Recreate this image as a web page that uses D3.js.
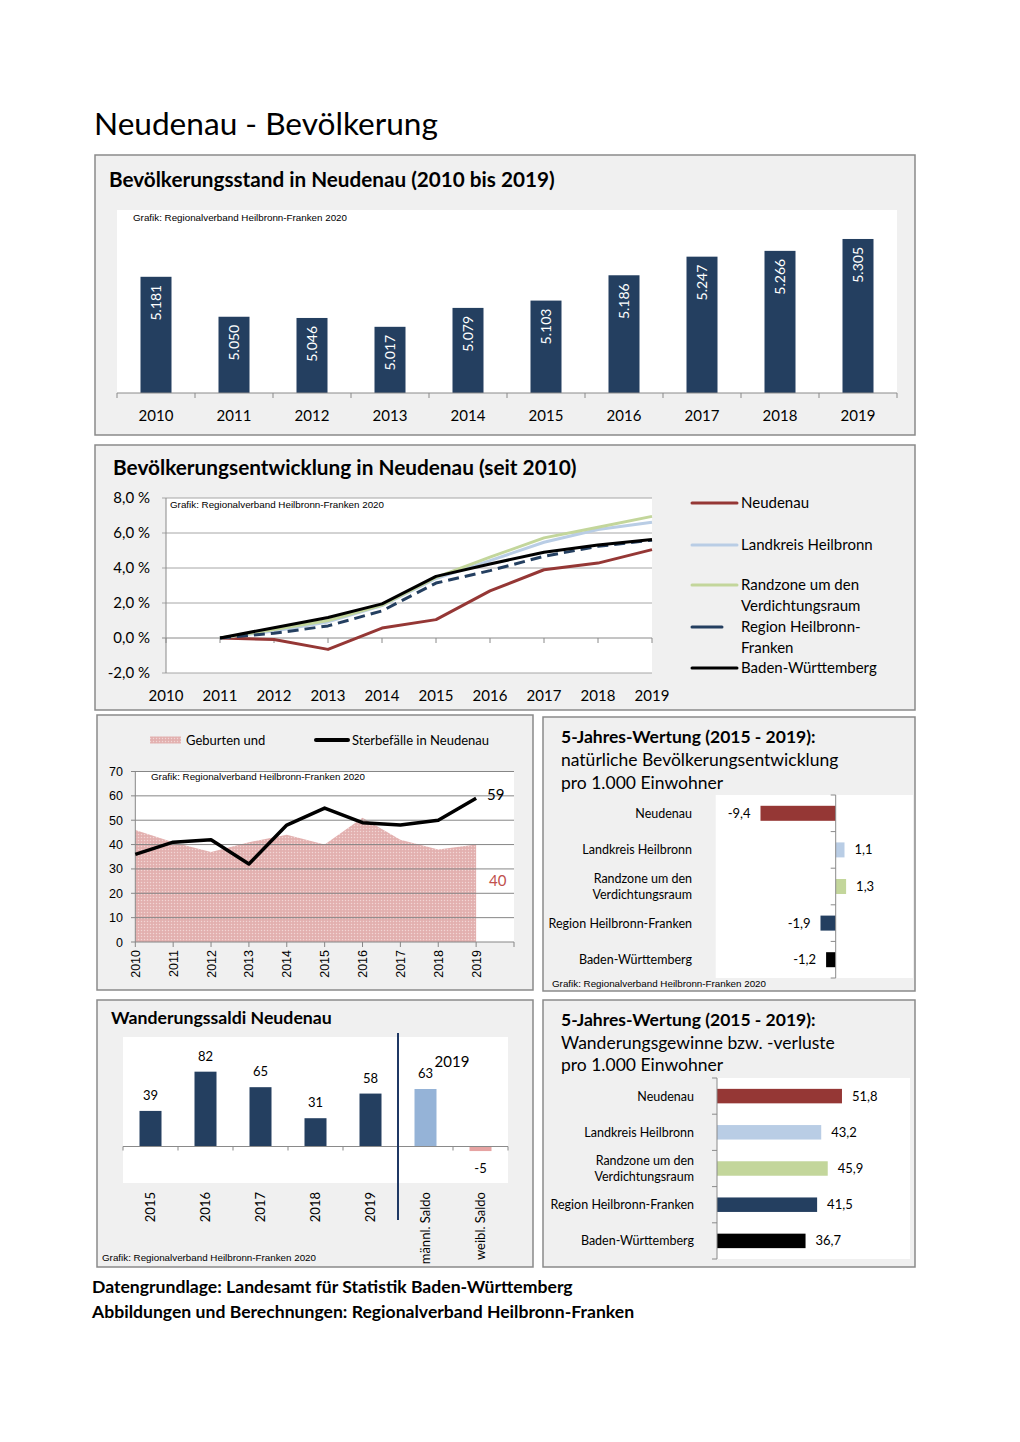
<!DOCTYPE html>
<html>
<head>
<meta charset="utf-8">
<script src="https://cdn.jsdelivr.net/npm/d3@7"></script>
<style>
  body { margin: 0; background: #fff; }
  svg { display: block; }
</style>
</head>
<body>
<script>
// ---------------- DATA ----------------
const popYears = [2010, 2011, 2012, 2013, 2014, 2015, 2016, 2017, 2018, 2019];
const popValues = [5181, 5050, 5046, 5017, 5079, 5103, 5186, 5247, 5266, 5305];

const devYears = [2010, 2011, 2012, 2013, 2014, 2015, 2016, 2017, 2018, 2019];
const devNeudenau  = [null, 0, -0.08, -0.65, 0.57, 1.05, 2.69, 3.90, 4.28, 5.05];
const devLandkreis = [null, 0, 0.40, 0.92, 1.85, 3.40, 4.42, 5.47, 6.20, 6.62];
const devRandzone  = [null, 0, 0.48, 1.00, 1.88, 3.46, 4.62, 5.72, 6.33, 6.95];
const devRegion    = [null, 0, 0.27, 0.69, 1.55, 3.14, 3.85, 4.67, 5.24, 5.59];
const devBW        = [null, 0, 0.59, 1.17, 1.95, 3.52, 4.23, 4.90, 5.32, 5.63];
const devNames = ["Neudenau", "Landkreis Heilbronn", "Randzone um den Verdichtungsraum", "Region Heilbronn-Franken", "Baden-Württemberg"];

const natYears = [2010, 2011, 2012, 2013, 2014, 2015, 2016, 2017, 2018, 2019];
const births = [46, 41, 37, 41, 44, 40, 51, 42, 38, 40];
const deaths = [36, 41, 42, 32, 48, 55, 49, 48, 50, 59];
const natTicks = [0, 10, 20, 30, 40, 50, 60, 70];

const regionNames = ["Neudenau", "Landkreis Heilbronn", "Randzone um den Verdichtungsraum", "Region Heilbronn-Franken", "Baden-Württemberg"];
const natural5y = [-9.4, 1.1, 1.3, -1.9, -1.2];

const migCats = ["2015", "2016", "2017", "2018", "2019", "männl. Saldo", "weibl. Saldo"];
const migValues = [39, 82, 65, 31, 58, 63, -5];

const migration5y = [51.8, 43.2, 45.9, 41.5, 36.7];

const devTicks = [-2, 0, 2, 4, 6, 8];

// ---------------- STYLE ----------------
const CAL = "Lato, 'Open Sans', sans-serif";
const ARIAL = "'Liberation Sans', Arial, sans-serif";
const NAVY = "#243f60";
const seriesColors = ["#953735", "#b9cde5", "#c3d69b", "#243f60", "#000000"];
const de = d3.formatLocale({decimal: ",", thousands: ".", grouping: [3], currency: ["", " €"], minus: "-"});
const fmtThousand = de.format(",");
const fmt1 = de.format(".1f");
const GRAF = "Grafik: Regionalverband Heilbronn-Franken 2020";
const GRAF_SIZE = 9.8;

const svg = d3.select("body").append("svg").attr("width", 1020).attr("height", 1442);
svg.append("rect").attr("width", 1020).attr("height", 1442).attr("fill", "#fff");

const defs = svg.append("defs");
const pat = defs.append("pattern").attr("id", "dots").attr("patternUnits", "userSpaceOnUse")
  .attr("width", 3).attr("height", 3);
pat.append("rect").attr("width", 3).attr("height", 3).attr("fill", "#e5b5b4");
pat.append("rect").attr("x", 0).attr("y", 0).attr("width", 1).attr("height", 1).attr("fill", "#f1d6d5");
pat.append("rect").attr("x", 1.5).attr("y", 1.5).attr("width", 1).attr("height", 1).attr("fill", "#dca2a1");

function panel(x, y, w, h) {
  svg.append("rect").attr("x", x).attr("y", y).attr("width", w).attr("height", h)
    .attr("fill", "#f0f0f0").attr("stroke", "#8a8a8a").attr("stroke-width", 1.5);
}
function text(x, y, s, opts = {}) {
  return svg.append("text").attr("x", x).attr("y", y).text(s)
    .attr("font-family", opts.family || CAL)
    .attr("font-size", opts.size || 14)
    .attr("font-weight", opts.weight || "normal")
    .attr("fill", opts.fill || "#000")
    .attr("text-anchor", opts.anchor || "start");
}
function white(x, y, w, h) {
  svg.append("rect").attr("x", x).attr("y", y).attr("width", w).attr("height", h).attr("fill", "#fff");
}

// ---------------- MAIN TITLE ----------------
text(94, 135, "Neudenau - Bevölkerung", {size: 31.6});

// ---------------- PANEL 1 ----------------
panel(95, 155, 820, 280);
text(109, 187, "Bevölkerungsstand in Neudenau (2010 bis 2019)", {size: 20.7, weight: "bold"});
white(117, 210, 780, 183);
text(133, 221, GRAF, {family: ARIAL, size: GRAF_SIZE});
{
  const x = d3.scaleBand().domain(popYears).range([117, 897]).paddingInner(47 / 78).paddingOuter(47 / 156);
  const y = d3.scaleLinear().domain([4800, 5400]).range([393, 210]);
  const g = svg.append("g");
  g.selectAll("rect.bar").data(popValues).join("rect")
    .attr("x", (d, i) => x(popYears[i])).attr("width", x.bandwidth())
    .attr("y", d => y(d)).attr("height", d => y(4800) - y(d))
    .attr("fill", NAVY);
  g.selectAll("text.lab").data(popValues).join("text")
    .attr("transform", (d, i) => `translate(${x(popYears[i]) + x.bandwidth() / 2 + 5},${y(d) + 8}) rotate(-90)`)
    .attr("text-anchor", "end").attr("font-family", CAL).attr("font-size", 14).attr("fill", "#fff")
    .text(d => fmtThousand(d));
  const axisY = y(4800);
  g.append("line").attr("x1", 117).attr("x2", 897).attr("y1", axisY).attr("y2", axisY).attr("stroke", "#8a8a8a");
  const bounds = d3.range(popYears.length + 1).map(i => x.range()[0] + i * x.step());
  g.selectAll("line.tk").data(bounds).join("line")
    .attr("x1", d => d).attr("x2", d => d).attr("y1", axisY).attr("y2", axisY + 5).attr("stroke", "#8a8a8a");
  g.selectAll("text.xl").data(popYears).join("text")
    .attr("x", d => x(d) + x.bandwidth() / 2).attr("y", 421)
    .attr("text-anchor", "middle").attr("font-family", CAL).attr("font-size", 15)
    .text(d => d);
}

// ---------------- PANEL 2 ----------------
panel(95, 445, 820, 265);
text(113, 475, "Bevölkerungsentwicklung in Neudenau (seit 2010)", {size: 20.8, weight: "bold"});
{
  const x = d3.scalePoint().domain(devYears).range([166, 652]);
  const y = d3.scaleLinear().domain([-2, 8]).range([673, 498]);
  white(166, 498, 486, 175);
  const g = svg.append("g");
  g.selectAll("line.grid").data(devTicks.filter(d => d !== 0)).join("line")
    .attr("x1", 162).attr("x2", 652).attr("y1", d => y(d)).attr("y2", d => y(d))
    .attr("stroke", "#a6a6a6").attr("stroke-width", 1);
  g.append("line").attr("x1", 162).attr("x2", 652).attr("y1", y(0)).attr("y2", y(0)).attr("stroke", "#8a8a8a");
  g.append("line").attr("x1", 166).attr("x2", 166).attr("y1", y(8)).attr("y2", y(-2)).attr("stroke", "#8a8a8a");
  g.selectAll("line.xt").data(devYears).join("line")
    .attr("x1", d => x(d)).attr("x2", d => x(d)).attr("y1", y(0)).attr("y2", y(0) + 5).attr("stroke", "#8a8a8a");
  g.selectAll("text.yl").data(devTicks).join("text")
    .attr("x", 150).attr("y", d => y(d) + 5).attr("text-anchor", "end")
    .attr("font-family", CAL).attr("font-size", 15).text(d => fmt1(d) + " %");
  g.selectAll("text.xl").data(devYears).join("text")
    .attr("x", d => x(d)).attr("y", 701).attr("text-anchor", "middle")
    .attr("font-family", CAL).attr("font-size", 15).text(d => d);
  text(170, 508, GRAF, {family: ARIAL, size: GRAF_SIZE});
  const series = [devNeudenau, devLandkreis, devRandzone, devRegion, devBW];
  const line = d3.line().defined(d => d != null).x((d, i) => x(devYears[i])).y(d => y(d));
  series.forEach((s, k) => {
    g.append("path").attr("d", line(s)).attr("fill", "none")
      .attr("stroke", seriesColors[k]).attr("stroke-width", 3)
      .attr("stroke-linejoin", "round")
      .attr("stroke-dasharray", k === 3 ? "11,6" : null);
  });
  // legend
  const legY = [503, 545, 585, 627, 668];
  const lg = svg.append("g");
  devNames.forEach((n, k) => {
    lg.append("line").attr("x1", 692).attr("x2", k === 3 ? 722 : 737).attr("y1", legY[k]).attr("y2", legY[k])
      .attr("stroke", seriesColors[k]).attr("stroke-width", 3).attr("stroke-linecap", "round");
  });
  const legLines = [["Neudenau"], ["Landkreis Heilbronn"], ["Randzone um den", "Verdichtungsraum"], ["Region Heilbronn-", "Franken"], ["Baden-Württemberg"]];
  legLines.forEach((ls, k) => {
    ls.forEach((l, j) => {
      lg.append("text").attr("x", 741).attr("y", legY[k] + 5 + j * 21).attr("font-family", CAL).attr("font-size", 15).text(l);
    });
  });
}

// ---------------- PANEL 3 ----------------
panel(97, 715, 436, 275);
{
  const x = d3.scalePoint().domain(natYears.concat(["pad"])).range([135.3, 514]);
  const y = d3.scaleLinear().domain([0, 70]).range([942, 771.5]);
  white(135.3, 771.5, 378.7, 170.5);
  const g = svg.append("g");
  const area = d3.area().x((d, i) => x(natYears[i])).y0(y(0)).y1(d => y(d));
  g.append("path").attr("d", area(births)).attr("fill", "url(#dots)");
  g.selectAll("line.grid").data(natTicks.filter(d => d > 0)).join("line")
    .attr("x1", 131).attr("x2", 514).attr("y1", d => y(d)).attr("y2", d => y(d))
    .attr("stroke", "#868686");
  g.append("line").attr("x1", 131).attr("x2", 514).attr("y1", y(0)).attr("y2", y(0)).attr("stroke", "#868686");
  g.append("line").attr("x1", 135.3).attr("x2", 135.3).attr("y1", y(70)).attr("y2", y(0)).attr("stroke", "#868686");
  g.selectAll("line.xt").data(x.domain()).join("line")
    .attr("x1", d => x(d)).attr("x2", d => x(d)).attr("y1", y(0)).attr("y2", y(0) + 5).attr("stroke", "#868686");
  g.selectAll("text.yl").data(natTicks).join("text")
    .attr("x", 123).attr("y", d => y(d) + 4.5).attr("text-anchor", "end")
    .attr("font-family", ARIAL).attr("font-size", 12.5).text(d => d);
  g.selectAll("text.xl").data(natYears).join("text")
    .attr("transform", d => `translate(${x(d) + 4.5},950) rotate(-90)`)
    .attr("text-anchor", "end").attr("font-family", ARIAL).attr("font-size", 12.5).text(d => d);
  const ln = d3.line().x((d, i) => x(natYears[i])).y(d => y(d));
  g.append("path").attr("d", ln(deaths)).attr("fill", "none").attr("stroke", "#000")
    .attr("stroke-width", 3.5).attr("stroke-linejoin", "round");
  text(151, 780, GRAF, {family: ARIAL, size: GRAF_SIZE});
  text(487, 800, deaths[deaths.length - 1], {size: 15});
  text(489, 886, births[births.length - 1], {size: 15, fill: "#c0504d"});
  // legend
  svg.append("rect").attr("x", 150).attr("y", 736.5).attr("width", 31).attr("height", 7).attr("fill", "url(#dots)");
  text(186, 744.5, "Geburten und", {size: 13});
  svg.append("line").attr("x1", 316).attr("x2", 348).attr("y1", 740).attr("y2", 740)
    .attr("stroke", "#000").attr("stroke-width", 4).attr("stroke-linecap", "round");
  text(352, 744.5, "Sterbefälle in Neudenau", {size: 13});
}

// ---------------- PANEL 4 ----------------
panel(543, 717, 372, 274);
text(561, 743, "5-Jahres-Wertung (2015 - 2019):", {size: 17.5, weight: "bold"});
text(561, 766, "natürliche Bevölkerungsentwicklung", {size: 17.5});
text(561, 789, "pro 1.000 Einwohner", {size: 17.5});
function hbarChart(values, cfg) {
  const yb = d3.scaleBand().domain(regionNames).range([cfg.y0, cfg.y1]).paddingInner(cfg.pad).paddingOuter(cfg.pad / 2);
  const x = d3.scaleLinear().domain(cfg.domain).range([cfg.x0, cfg.x1]);
  white(cfg.wx0, cfg.y0, cfg.wx1 - cfg.wx0, cfg.y1 - cfg.y0);
  const g = svg.append("g");
  g.selectAll("rect").data(values).join("rect")
    .attr("x", d => Math.min(x(0), x(d))).attr("width", d => Math.abs(x(d) - x(0)))
    .attr("y", (d, i) => yb(regionNames[i])).attr("height", yb.bandwidth())
    .attr("fill", (d, i) => seriesColors[i]);
  g.append("line").attr("x1", x(0)).attr("x2", x(0)).attr("y1", cfg.y0).attr("y2", cfg.y1).attr("stroke", "#8a8a8a");
  const bounds = d3.range(regionNames.length + 1).map(i => cfg.y0 + i * yb.step());
  g.selectAll("line.tk").data(bounds).join("line")
    .attr("x1", x(0) - 5).attr("x2", x(0)).attr("y1", d => d).attr("y2", d => d).attr("stroke", "#8a8a8a");
  g.selectAll("text.v").data(values).join("text")
    .attr("x", d => d < 0 ? x(d) - 10 : x(d) + 10)
    .attr("y", (d, i) => yb(regionNames[i]) + yb.bandwidth() / 2 + 4.5)
    .attr("text-anchor", d => d < 0 ? "end" : "start")
    .attr("font-family", CAL).attr("font-size", 13).text(d => fmt1(d));
  regionNames.forEach((n, i) => {
    const cy = yb(n) + yb.bandwidth() / 2;
    const parts = n === "Randzone um den Verdichtungsraum" ? ["Randzone um den", "Verdichtungsraum"] : [n];
    parts.forEach((p, j) => {
      g.append("text").attr("x", cfg.lx).attr("y", cy + 4.5 + (j - (parts.length - 1) / 2) * 16.5)
        .attr("text-anchor", "end").attr("font-family", CAL).attr("font-size", 12.5).text(p);
    });
  });
}
hbarChart(natural5y, {y0: 795, y1: 978, pad: 0.59, domain: [-15, 10], x0: 715.7, x1: 915.7, wx0: 715.7, wx1: 913, lx: 692});
text(552, 987, GRAF, {family: ARIAL, size: GRAF_SIZE});

// ---------------- PANEL 5 ----------------
panel(97, 1000, 436, 267);
text(111, 1024, "Wanderungssaldi Neudenau", {size: 17.7, weight: "bold"});
{
  const x = d3.scaleBand().domain(migCats).range([123, 508]).paddingInner(0.6).paddingOuter(0.3);
  const y = d3.scaleLinear().domain([-40, 120]).range([1183, 1037]);
  white(123, 1037, 385, 146);
  const g = svg.append("g");
  g.selectAll("rect").data(migValues).join("rect")
    .attr("x", (d, i) => x(migCats[i])).attr("width", x.bandwidth())
    .attr("y", d => Math.min(y(0), y(d))).attr("height", d => Math.abs(y(d) - y(0)))
    .attr("fill", (d, i) => i < 5 ? NAVY : (d >= 0 ? "#95b3d7" : "#e6a3a2"));
  g.append("line").attr("x1", 123).attr("x2", 508).attr("y1", y(0)).attr("y2", y(0)).attr("stroke", "#8a8a8a");
  const bounds = d3.range(migCats.length + 1).map(i => 123 + i * x.step());
  g.selectAll("line.tk").data(bounds).join("line")
    .attr("x1", d => d).attr("x2", d => d).attr("y1", y(0)).attr("y2", y(0) + 4).attr("stroke", "#8a8a8a");
  g.selectAll("text.v").data(migValues).join("text")
    .attr("x", (d, i) => x(migCats[i]) + x.bandwidth() / 2)
    .attr("y", d => d >= 0 ? y(d) - 11 : y(d) + 22)
    .attr("text-anchor", "middle").attr("font-family", CAL).attr("font-size", 13).text(d => d);
  g.selectAll("text.xl").data(migCats).join("text")
    .attr("transform", d => `translate(${x(d) + x.bandwidth() / 2 + 4.5},1192) rotate(-90)`)
    .attr("text-anchor", "end").attr("font-family", CAL).attr("font-size", 13).text(d => d);
  const sep = 123 + 5 * x.step();
  g.append("line").attr("x1", sep).attr("x2", sep).attr("y1", 1033).attr("y2", 1220)
    .attr("stroke", "#1f3864").attr("stroke-width", 2);
  text(452, 1067, "2019", {size: 15, anchor: "middle"});
  text(102, 1261, GRAF, {family: ARIAL, size: GRAF_SIZE});
}

// ---------------- PANEL 6 ----------------
panel(543, 1000, 372, 267);
text(561, 1026, "5-Jahres-Wertung (2015 - 2019):", {size: 17.5, weight: "bold"});
text(561, 1049, "Wanderungsgewinne bzw. -verluste", {size: 17.5});
text(561, 1071, "pro 1.000 Einwohner", {size: 17.5});
hbarChart(migration5y, {y0: 1078, y1: 1259, pad: 0.6, domain: [0, 80], x0: 717, x1: 910, wx0: 717, wx1: 910, lx: 694});

// ---------------- FOOTER ----------------
text(92, 1293, "Datengrundlage: Landesamt für Statistik Baden-Württemberg", {size: 17.6, weight: "bold"});
text(92, 1318, "Abbildungen und Berechnungen: Regionalverband Heilbronn-Franken", {size: 17.6, weight: "bold"});
</script>
</body>
</html>
